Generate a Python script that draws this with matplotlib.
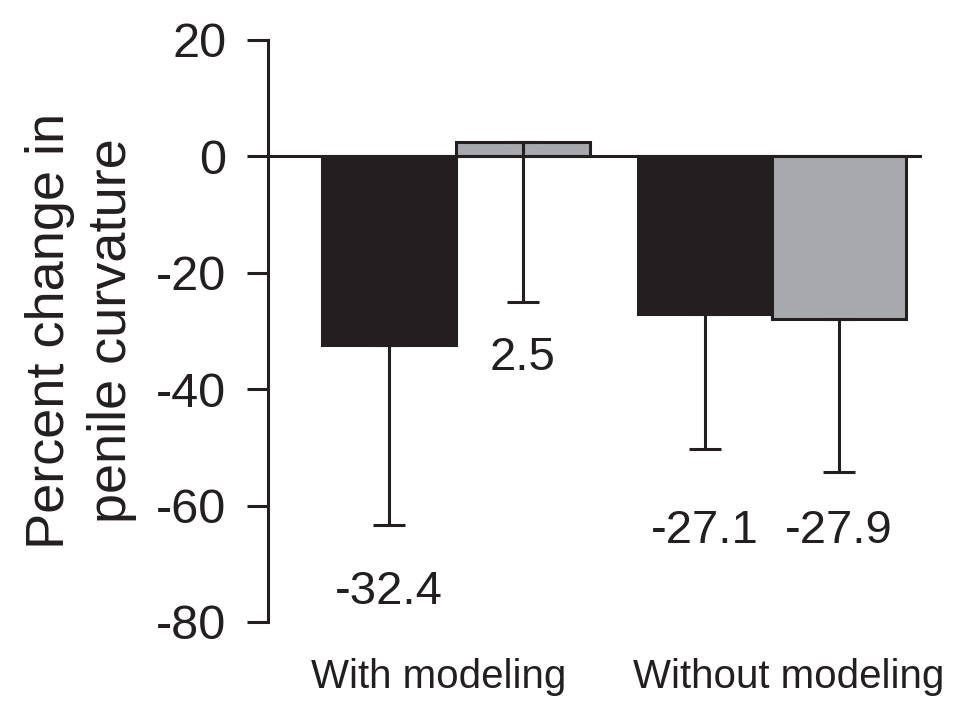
import matplotlib.pyplot as plt

# ---- datos -------------------------------------------------------------
grupos = ["With modeling", "Without modeling"]
valores = [-32.4, 2.5, -27.1, -27.9]
errores = [31.0, 27.6, 23.2, 26.4]          # solo hacia abajo
etiquetas = ["-32.4", "2.5", "-27.1", "-27.9"]

# ---- layout ------------------------------------------------------------
ancho = 1.0
hueco = 0.356
pos = [0.0, 1.0, 2.0 + hueco, 3.0 + hueco]
colores = ["#231f20", "#a7a9ac", "#231f20", "#a7a9ac"]
etiqueta_y = [-74.8, -34.6, -64.4, -64.4]
grupo_x = [0.37, 2.985]

plt.rcParams["font.family"] = ["Liberation Sans", "DejaVu Sans"]
plt.rcParams["axes.unicode_minus"] = False

lw = 2.2

fig = plt.figure(figsize=(9.57, 7.01), dpi=100)
ax = fig.add_axes([0.280, 0.1127, 0.6834, 0.8303])

ax.bar(pos, valores, width=ancho, color=colores, edgecolor="#231f20",
       linewidth=lw, zorder=2)

# barras de error solo hacia abajo
ax.errorbar(pos, valores, yerr=[errores, [0] * 4], fmt="none",
            ecolor="#231f20", elinewidth=lw, capsize=11.5, capthick=lw,
            zorder=3)

ax.axhline(0, color="#231f20", lw=lw, zorder=4)

for x, y, t in zip(pos, etiqueta_y, etiquetas):
    ax.text(x, y, t, ha="center", va="center", fontsize=34, color="#231f20")

for x, g in zip(grupo_x, grupos):
    ax.text(x, -91.3, g, ha="center", va="baseline", fontsize=29,
            color="#231f20")

ax.set_xlim(-0.9, 3.976)
ax.set_ylim(-80, 20)
ax.set_yticks([20, 0, -20, -40, -60, -80])
ax.set_xticks([])

for lado in ["top", "right", "bottom"]:
    ax.spines[lado].set_visible(False)
ax.spines["left"].set_linewidth(lw)
ax.spines["left"].set_color("#231f20")
ax.tick_params(axis="y", length=15, width=lw, pad=15, labelsize=35,
               colors="#231f20")

ax.set_ylabel("Percent change in\npenile curvature", fontsize=39,
              color="#231f20", labelpad=14, linespacing=1.3)

fig.savefig("out.png", dpi=100)
